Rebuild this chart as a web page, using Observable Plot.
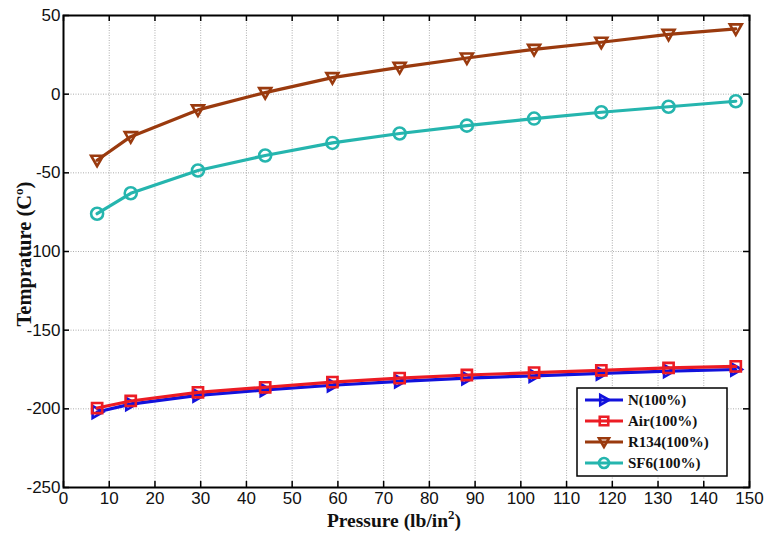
<!DOCTYPE html>
<html>
<head>
<meta charset="utf-8">
<script src="https://cdn.jsdelivr.net/npm/d3@7"></script>
<script src="https://cdn.jsdelivr.net/npm/@observablehq/plot@0.6"></script>
<style>
  html, body { margin: 0; padding: 0; background: #fff; overflow: hidden; }
  #chart svg { display: block; }
</style>
</head>
<body>
<div id="chart"></div>
<script>
// Saturation temperature of each gas against pressure
const pressure = [7.35, 14.7, 29.4, 44.1, 58.8, 73.5, 88.2, 102.9, 117.6, 132.3, 147];
const tempN    = [-202, -197, -191.5, -188, -185, -182.5, -180.5, -179, -177.5, -176, -175];
const tempAir  = [-199.5, -195, -189.5, -186.3, -183, -180.5, -178.5, -177, -175.5, -174, -173];
const tempR134 = [-42, -27, -10, 1, 10.5, 17, 23, 28.5, 33, 38, 41.5];
const tempSF6  = [-76, -63, -48.5, -39, -31, -25, -20, -15.5, -11.5, -8, -4.5];

const seriesNames  = ["N(100%)", "Air(100%)", "R134(100%)", "SF6(100%)"];
const seriesColors = ["#1212dc", "#ec1c24", "#9a3a0e", "#25b5ae"];

const xTicks = [0, 10, 20, 30, 40, 50, 60, 70, 80, 90, 100, 110, 120, 130, 140, 150];
const yTicks = [-250, -200, -150, -100, -50, 0, 50];

// Open marker shapes
const triangleDown = {
  draw(ctx, size) {
    const r = Math.sqrt(size / Math.PI);
    ctx.moveTo(0, r);
    ctx.lineTo(-r, -0.75 * r);
    ctx.lineTo(r, -0.75 * r);
    ctx.closePath();
  }
};
const triangleRight = {
  draw(ctx, size) {
    const r = Math.sqrt(size / Math.PI);
    ctx.moveTo(r, 0);
    ctx.lineTo(-0.75 * r, -r);
    ctx.lineTo(-0.75 * r, r);
    ctx.closePath();
  }
};
const squareMark = {
  draw(ctx, size) {
    const r = Math.sqrt(size / Math.PI) * 0.85;
    ctx.rect(-r, -r, 2 * r, 2 * r);
  }
};
const seriesSymbols = [triangleRight, squareMark, triangleDown, "circle"];
const seriesTemps = [tempN, tempAir, tempR134, tempSF6];

const series = seriesNames.map((name, k) => ({
  name,
  color: seriesColors[k],
  symbol: seriesSymbols[k],
  rows: pressure.map((p, i) => ({ pressure: p, temp: seriesTemps[k][i] }))
}));

const W = 767, H = 533;
const M = { top: 15, right: 18, bottom: 46, left: 63 };
const innerW = W - M.left - M.right;
const innerH = H - M.top - M.bottom;
const tickLen = 6;
const plain = d => String(d); // ASCII hyphen for negatives

const marks = [
  Plot.gridX(xTicks, { stroke: "#8a8a8a", strokeOpacity: 0.7, strokeDasharray: "1,1.5" }),
  Plot.gridY(yTicks, { stroke: "#8a8a8a", strokeOpacity: 0.7, strokeDasharray: "1,1.5" }),
  // inward tick marks on all four sides
  Plot.tickX(xTicks, { x: d => d, stroke: "#000", strokeWidth: 1.5, insetTop: innerH - tickLen }),
  Plot.tickX(xTicks, { x: d => d, stroke: "#000", strokeWidth: 1.5, insetBottom: innerH - tickLen }),
  Plot.tickY(yTicks, { y: d => d, stroke: "#000", strokeWidth: 1.5, insetRight: innerW - tickLen }),
  Plot.tickY(yTicks, { y: d => d, stroke: "#000", strokeWidth: 1.5, insetLeft: innerW - tickLen }),
  Plot.axisX(xTicks, { anchor: "bottom", tickSize: 0, tickPadding: 4, label: null, tickFormat: plain,
    fontSize: 17, fontFamily: "Liberation Sans, Arial, sans-serif", fill: "#111" }),
  Plot.axisY(yTicks, { anchor: "left", tickSize: 0, tickPadding: 3, label: null, tickFormat: plain,
    fontSize: 17, fontFamily: "Liberation Sans, Arial, sans-serif", fill: "#111" }),
  Plot.frame({ stroke: "#000", strokeWidth: 2 })
];

for (const s of series) {
  marks.push(Plot.line(s.rows, { x: "pressure", y: "temp", stroke: s.color, strokeWidth: 3.2 }));
  marks.push(Plot.dot(s.rows, { x: "pressure", y: "temp", stroke: s.color, fill: "none",
    strokeWidth: 2.6, r: 6, symbol: s.symbol }));
}

const chart = Plot.plot({
  width: W,
  height: H,
  marginTop: M.top,
  marginRight: M.right,
  marginBottom: M.bottom,
  marginLeft: M.left,
  style: { background: "#fff", overflow: "visible" },
  x: { type: "linear", domain: [0, 150] },
  y: { type: "linear", domain: [-250, 50] },
  marks
});

document.getElementById("chart").append(chart);

// axis titles and legend
const svg = d3.select(chart);
const serif = "Liberation Serif, Times New Roman, serif";

const xt = svg.append("text")
  .attr("x", 394).attr("y", 527)
  .attr("text-anchor", "middle")
  .attr("font-family", serif).attr("font-weight", "bold").attr("font-size", 19.5)
  .attr("fill", "#111");
xt.append("tspan").text("Pressure (lb/in");
xt.append("tspan").attr("dy", -8).attr("font-size", 13).text("2");
xt.append("tspan").attr("dy", 8).text(")");

const yt = svg.append("text")
  .attr("transform", "translate(31,254) rotate(-90)")
  .attr("text-anchor", "middle")
  .attr("font-family", serif).attr("font-weight", "bold").attr("font-size", 20.5)
  .attr("fill", "#111");
yt.append("tspan").text("Temprature (C");
yt.append("tspan").attr("dy", -8).attr("font-size", 13).text("o");
yt.append("tspan").attr("dy", 8).text(")");

const lg = svg.append("g").attr("text-anchor", "start");
lg.append("rect")
  .attr("x", 577).attr("y", 388).attr("width", 150).attr("height", 88)
  .attr("fill", "#fff").attr("stroke", "#000").attr("stroke-width", 1.5);

series.forEach((s, i) => {
  const cy = 400 + i * 21;
  lg.append("line")
    .attr("x1", 585).attr("x2", 623).attr("y1", cy).attr("y2", cy)
    .attr("stroke", s.color).attr("stroke-width", 3.2);
  const shape = typeof s.symbol === "string" ? d3.symbolCircle : s.symbol;
  lg.append("path")
    .attr("transform", `translate(604,${cy})`)
    .attr("d", d3.symbol(shape, Math.PI * 25)())
    .attr("fill", "none").attr("stroke", s.color).attr("stroke-width", 2.6);
  lg.append("text")
    .attr("x", 628).attr("y", cy + 5)
    .attr("text-anchor", "start")
    .attr("font-family", serif).attr("font-weight", "bold").attr("font-size", 15)
    .attr("fill", "#111")
    .text(s.name);
});
</script>
</body>
</html>
